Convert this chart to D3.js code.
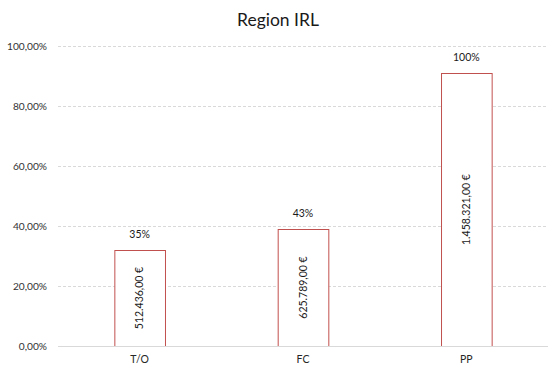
<!DOCTYPE html>
<html>
<head>
<meta charset="utf-8">
<script src="https://cdn.jsdelivr.net/npm/d3@7"></script>
<style>
  html, body { margin: 0; padding: 0; background: #fff; }
  svg { display: block; font-family: Lato, "Open Sans", sans-serif; }
</style>
</head>
<body>
<svg id="chart" width="558" height="374"></svg>
<script>
const title = "Region IRL";
const categories = ["T/O", "FC", "PP"];
const values = [32, 39, 91];                 // bar heights in %
const percentLabels = ["35%", "43%", "100%"];
const amountLabels = ["512.436,00 €", "625.789,00 €", "1.458.321,00 €"];
const yTicks = [0, 20, 40, 60, 80, 100];
const yTickLabels = ["0,00%", "20,00%", "40,00%", "60,00%", "80,00%", "100,00%"];

const W = 558, H = 374;
const margin = { top: 46, right: 10, bottom: 28, left: 58 };
const svg = d3.select("#chart");

const x = d3.scaleBand()
  .domain(categories)
  .range([margin.left, W - margin.right])
  .paddingInner(0.69)
  .paddingOuter(0.345);

const y = d3.scaleLinear()
  .domain([0, 100])
  .range([H - margin.bottom, margin.top]);

// Title
svg.append("text")
  .attr("x", 278).attr("y", 26)
  .attr("text-anchor", "middle")
  .attr("font-size", 17.5)
  .attr("fill", "#1a1a1a")
  .text(title);

// Gridlines
svg.append("g").selectAll("line")
  .data(yTicks)
  .join("line")
  .attr("x1", margin.left).attr("x2", W - margin.right)
  .attr("y1", d => Math.round(y(d)) + 0.5)
  .attr("y2", d => Math.round(y(d)) + 0.5)
  .attr("stroke", "#d9d9d9")
  .attr("stroke-width", 1)
  .attr("stroke-dasharray", d => d === 0 ? null : "3,2");

// Y axis labels
const yAxis = d3.axisLeft(y)
  .tickValues(yTicks)
  .tickFormat((d, i) => yTickLabels[i])
  .tickSize(0)
  .tickPadding(11);
const gy = svg.append("g")
  .attr("transform", `translate(${margin.left},0)`)
  .call(yAxis);
gy.select(".domain").remove();
gy.selectAll("text")
  .attr("font-family", "Lato, 'Open Sans', sans-serif")
  .attr("font-size", 10.2)
  .attr("fill", "#333333");

// Bars
svg.append("g").selectAll("rect")
  .data(values)
  .join("rect")
  .attr("x", (d, i) => x(categories[i]) + 0.5)
  .attr("y", d => Math.round(y(d)) + 0.5)
  .attr("width", x.bandwidth())
  .attr("height", d => y(0) - Math.round(y(d)))
  .attr("fill", "#ffffff")
  .attr("stroke", "#c0504d")
  .attr("stroke-width", 1);

// Redraw baseline over bars
svg.append("line")
  .attr("x1", margin.left).attr("x2", W - margin.right)
  .attr("y1", Math.round(y(0)) + 0.5).attr("y2", Math.round(y(0)) + 0.5)
  .attr("stroke", "#d9d9d9");

// X axis labels
const xAxis = d3.axisBottom(x).tickSize(0).tickPadding(10);
const gx = svg.append("g")
  .attr("transform", `translate(0,${y(0)})`)
  .call(xAxis);
gx.select(".domain").remove();
gx.selectAll("text")
  .attr("font-family", "Lato, 'Open Sans', sans-serif")
  .attr("font-size", 10.5)
  .attr("fill", "#262626");

// Percent labels above bars
svg.append("g").selectAll("text")
  .data(percentLabels)
  .join("text")
  .attr("x", (d, i) => x(categories[i]) + x.bandwidth() / 2)
  .attr("y", (d, i) => y(values[i]) - 12)
  .attr("text-anchor", "middle")
  .attr("font-size", 10.5)
  .attr("fill", "#1a1a1a")
  .text(d => d);

// Amount labels rotated inside bars
svg.append("g").selectAll("text")
  .data(amountLabels)
  .join("text")
  .attr("transform", (d, i) => {
    const cx = x(categories[i]) + x.bandwidth() / 2;
    const cy = (y(values[i]) + y(0)) / 2;
    return `translate(${cx},${cy}) rotate(-90)`;
  })
  .attr("text-anchor", "middle")
  .attr("dy", "0.35em")
  .attr("font-size", 10.5)
  .attr("fill", "#1a1a1a")
  .text(d => d);
</script>
</body>
</html>
